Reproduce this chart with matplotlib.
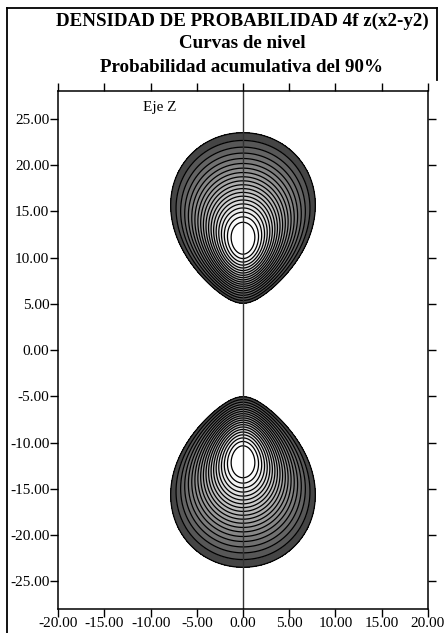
import numpy as np
import matplotlib
matplotlib.use('Agg')
import matplotlib.pyplot as plt
from matplotlib.lines import Line2D

plt.rcParams['font.family'] = ['Liberation Serif', 'DejaVu Serif']
plt.rcParams['axes.unicode_minus'] = False

# chart text
title_lines = ['DENSIDAD DE PROBABILIDAD 4f z(x2-y2)',
               'Curvas de nivel',
               'Probabilidad acumulativa del 90%']
axis_label = 'Eje Z'

# axes ticks
x_ticks = [-20, -15, -10, -5, 0, 5, 10, 15, 20]
y_ticks = [-25, -20, -15, -10, -5, 0, 5, 10, 15, 20, 25]

# orbital model: R(r)^2 ~ r^6 exp(-r/2) (n=4, l=3), angular ~ |cos(theta)|^k
radial_power = 6
radial_decay = 0.5
angular_power = 11

# contour levels (fraction of maximum density), outer one = 90% cumulative
levels = [0.18, 0.22, 0.26, 0.30, 0.34, 0.38, 0.42, 0.46, 0.50, 0.54,
          0.58, 0.62, 0.66, 0.70, 0.74, 0.78, 0.82, 0.86, 0.90, 0.94]

x = np.linspace(-20, 20, 801)
z = np.linspace(-28, 28, 1121)
X, Z = np.meshgrid(x, z)
R = np.sqrt(X**2 + Z**2) + 1e-9
dens = R**radial_power * np.exp(-radial_decay * R) * np.abs(Z / R)**angular_power
dens = dens / dens.max()

W, H = 447, 633
fig = plt.figure(figsize=(W / 100, H / 100), dpi=100)
ax = fig.add_axes([58.3 / W, 1 - 609 / H, (427.7 - 58.3) / W, (609 - 91) / H])

n = len(levels)
t = np.linspace(0, 1, n - 1)
greys = 0.27 + 0.71 * t**0.8
band_colors = [(g, g, g) for g in greys] + [(1, 1, 1)]
ax.contourf(X, Z, dens, levels=levels + [1.01], colors=band_colors)
ax.contour(X, Z, dens, levels=levels, colors='black', linewidths=0.9)

ax.axvline(0, color='#333333', lw=1.0)
ax.text(-9.0, 26.2, axis_label, fontsize=11, ha='center', va='center')

ax.set_xlim(-20, 20)
ax.set_ylim(-28, 28)
ax.set_xticks(x_ticks)
ax.set_yticks(y_ticks)
ax.set_xticklabels(['%.2f' % v for v in x_ticks])
ax.set_yticklabels(['%.2f' % v for v in y_ticks])
ax.tick_params(direction='out', length=6, width=1, top=True, right=True,
               labeltop=False, labelright=False, labelsize=11)
ax.tick_params(axis='x', pad=0)
ax.tick_params(axis='y', pad=0.5)
for s in ax.spines.values():
    s.set_linewidth(1.1)

for i, line in enumerate(title_lines):
    fig.text(242 / W, 1 - (21 + 23 * i) / H, line, ha='center', va='center',
             fontsize=13.7, fontweight='bold')

# outer frame
fig.add_artist(Line2D([6.7 / W, 6.7 / W], [0, 1 - 8 / H], color='black', lw=1.3))
fig.add_artist(Line2D([6.7 / W, 437 / W], [1 - 8 / H, 1 - 8 / H], color='black', lw=1.3))
fig.add_artist(Line2D([437 / W, 437 / W], [1 - 8 / H, 1 - 80 / H], color='black', lw=1.3))

fig.savefig('out.png', dpi=100)
